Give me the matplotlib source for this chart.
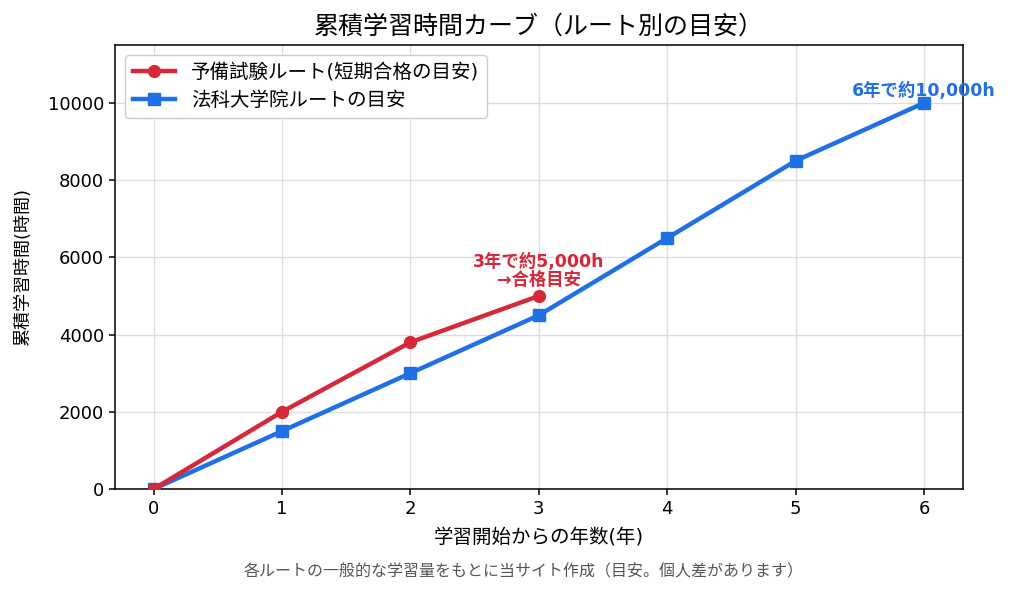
import matplotlib
matplotlib.use('Agg')
import matplotlib.pyplot as plt

years_yobi = [0, 1, 2, 3]
hours_yobi = [0, 2000, 3800, 5000]
years_law = [0, 1, 2, 3, 4, 5, 6]
hours_law = [0, 1500, 3000, 4500, 6500, 8500, 10000]

red = '#d62839'
blue = '#1f6fe5'

plt.rcParams['font.family'] = ['DejaVu Sans', 'Noto Sans CJK SC']

fig = plt.figure(figsize=(10.1, 5.92), dpi=100)
ax = fig.add_axes([0.114, 0.174, 0.839, 0.750])

ax.plot(years_yobi, hours_yobi, color=red, lw=3.2, marker='o', ms=8.5,
        label='予備試験ルート(短期合格の目安)', zorder=3)
ax.plot(years_law, hours_law, color=blue, lw=3.2, marker='s', ms=8.5,
        label='法科大学院ルートの目安', zorder=2)

ax.annotate('3年で約5,000h\n→合格目安', xy=(3, 5000), xytext=(0, 5),
            textcoords='offset points', ha='center', va='bottom',
            color=red, fontsize=12.5, fontweight='bold', linespacing=1.0)
ax.annotate('6年で約10,000h', xy=(6, 10000), xytext=(0, 2),
            textcoords='offset points', ha='center', va='bottom',
            color=blue, fontsize=12.5, fontweight='bold')

ax.set_xlim(-0.3, 6.3)
ax.set_ylim(0, 11500)
ax.set_xticks(range(7))
ax.set_yticks([0, 2000, 4000, 6000, 8000, 10000])
ax.grid(True, color='#dddddd', lw=1)
ax.set_axisbelow(True)
ax.tick_params(labelsize=13, length=4.5, width=1.1)
for s in ax.spines.values():
    s.set_linewidth(1.1)

ax.set_title('累積学習時間カーブ（ルート別の目安）', fontsize=18, pad=8)
ax.set_xlabel('学習開始からの年数(年)', fontsize=14, labelpad=7)
ax.set_ylabel('累積学習時間(時間)', fontsize=13, labelpad=11)
ax.legend(loc='upper left', fontsize=14, framealpha=1, handlelength=2.2)

fig.text(0.518, 0.035, '各ルートの一般的な学習量をもとに当サイト作成（目安。個人差があります）',
         ha='center', va='center', fontsize=11.5, color='#555555')

fig.savefig('out.png', dpi=100)
